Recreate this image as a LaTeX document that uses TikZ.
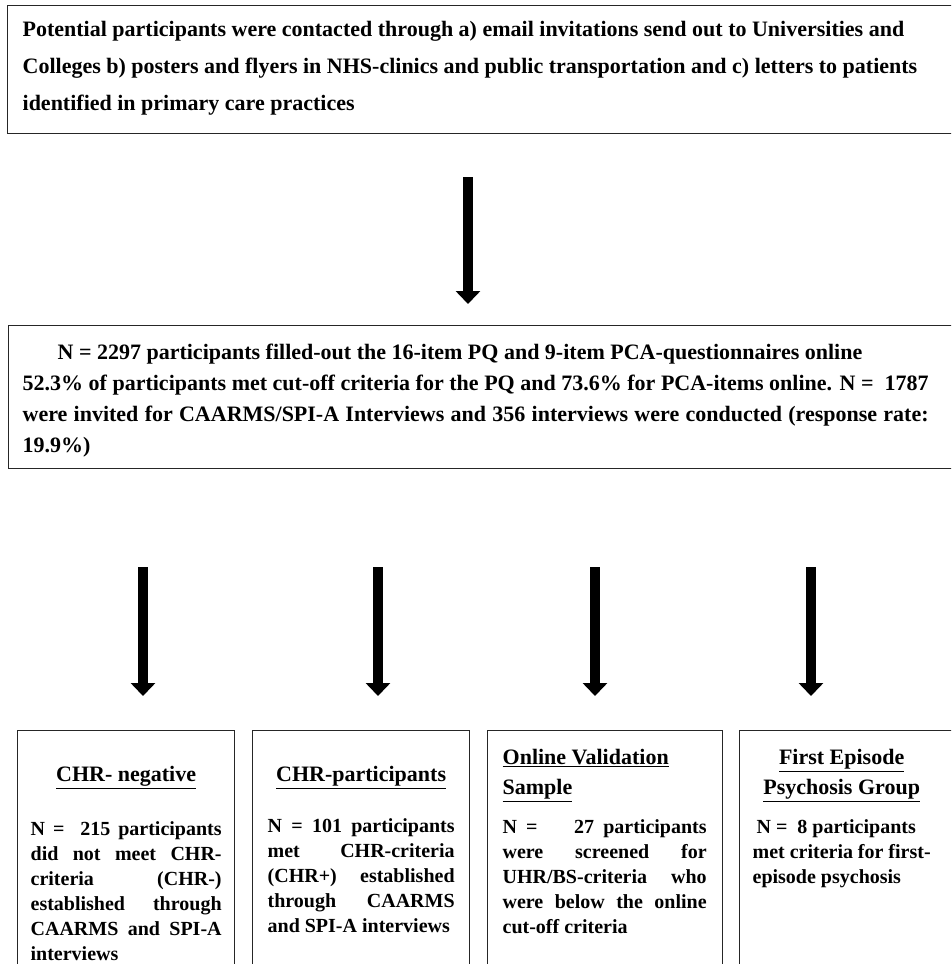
\documentclass[tikz,border=0pt]{standalone}
\usepackage{fontspec}
\setmainfont{Liberation Serif}
\usetikzlibrary{arrows.meta}
\newcommand\myjust{\leftskip=0pt\rightskip=0pt\parfillskip=0pt plus 1fil\relax}
\newcommand\titlefont{\fontsize{22}{30}\selectfont}
\newcommand\bodyfont{\fontsize{20}{25}\selectfont}
\begin{document}
\begin{tikzpicture}[x=1pt,y=-1pt,
  box/.style={draw=black!85, line width=1.3pt, anchor=north west, inner sep=0pt, font=\bfseries},
  bigarrow/.style={line width=10pt, -{Triangle[width=24pt,length=13pt]}},
]
\useasboundingbox (0,0) rectangle (951,964);
\clip (0,0) rectangle (951,964);

% top box
\node[box] (contact) at (7,5) {%
\hspace*{15pt}\begin{minipage}[t][128pt][t]{930pt}\fontsize{22}{37}\selectfont\raggedright
\rule{0pt}{31pt}Potential participants were contacted through a) email invitations send out to Universities and\\
Colleges b) posters and flyers in NHS-clinics and public transportation and c) letters to patients\\
identified in primary care practices
\end{minipage}\hspace*{20pt}};

% middle box
\node[box] (online) at (8,325) {%
\hspace*{14pt}\begin{minipage}[t][143pt][t]{906pt}\fontsize{22}{31}\selectfont
\rule{0pt}{34pt}\hspace*{35pt}N = 2297 participants filled-out the 16-item PQ and 9-item PCA-questionnaires online\\
52.3\% of participants met cut-off criteria for the PQ and 73.6\% for PCA-items online. N =~~1787\linebreak
were invited for CAARMS/SPI-A Interviews and 356 interviews were conducted (response rate:\linebreak
19.9\%)
\end{minipage}\hspace*{40pt}};

% bottom boxes
\node[box] (neg) at (17,730) {%
\hspace*{13pt}\begin{minipage}[t][260pt][t]{191pt}
\centering\rule{0pt}{51pt}\titlefont\underline{CHR- negative}\par
\vspace{29pt}\bodyfont\myjust
N =~~215 participants\linebreak did not meet CHR-\linebreak criteria (CHR-)\linebreak established through\linebreak CAARMS and SPI-A\linebreak interviews\par
\end{minipage}\hspace*{13pt}};

\node[box] (pos) at (252,730) {%
\hspace*{15pt}\begin{minipage}[t][260pt][t]{187pt}
\centering\rule{0pt}{51pt}\titlefont\underline{CHR-participants}\par
\vspace{26pt}\bodyfont\myjust
N = 101 participants\linebreak met CHR-criteria\linebreak (CHR+) established\linebreak through CAARMS\linebreak and SPI-A interviews\par
\end{minipage}\hspace*{15pt}};

\node[box] (valid) at (487,730) {%
\hspace*{15pt}\begin{minipage}[t][260pt][t]{204pt}\raggedright
\rule{0pt}{34pt}\titlefont\underline{Online Validation}\\
\underline{Sample}\par
\vspace{14pt}\bodyfont\myjust
N =~~~~27 participants\linebreak were screened for\linebreak UHR/BS-criteria who\linebreak were below the online\linebreak cut-off criteria\par
\end{minipage}\hspace*{16pt}};

\node[box] (fep) at (739,730) {%
\hspace*{13pt}\begin{minipage}[t][260pt][t]{178pt}\centering
\rule{0pt}{34pt}\titlefont\underline{First Episode}\\
\underline{Psychosis Group}\par
\vspace{14pt}\bodyfont\raggedright
\hspace*{4pt}N =~~8 participants\\
met criteria for first-\\
episode psychosis\par
\end{minipage}\hspace*{40pt}};

% arrows
\coordinate (a1s) at (468,177);
\coordinate (a1e) at (468,304);
\draw[bigarrow] (a1s) -- (a1e);
\coordinate (b1s) at (143,567);
\coordinate (b1e) at (143,696);
\coordinate (b2s) at (378,567);
\coordinate (b2e) at (378,696);
\coordinate (b3s) at (595,567);
\coordinate (b3e) at (595,696);
\coordinate (b4s) at (811,567);
\coordinate (b4e) at (811,696);
\draw[bigarrow] (b1s) -- (b1e);
\draw[bigarrow] (b2s) -- (b2e);
\draw[bigarrow] (b3s) -- (b3e);
\draw[bigarrow] (b4s) -- (b4e);
\end{tikzpicture}
\end{document}
